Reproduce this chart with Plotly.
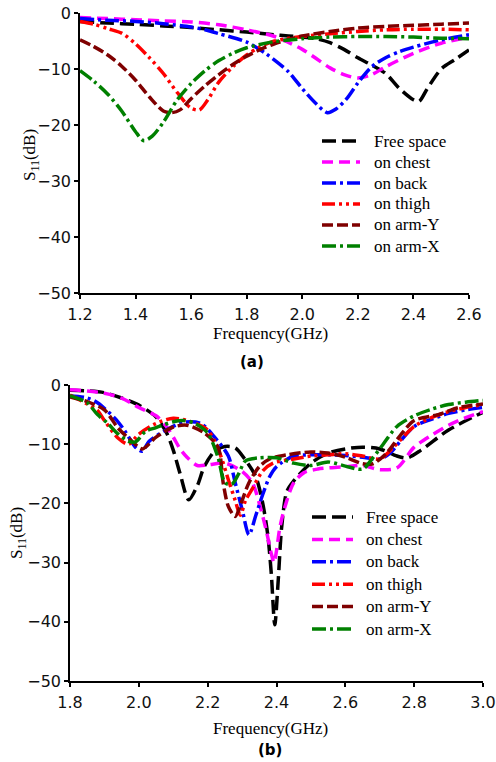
import plotly.graph_objects as go

# ---------------- data: panel (a) ----------------
a_free_x = [1.2, 1.3, 1.4, 1.5, 1.6, 1.7, 1.8, 1.9, 1.95, 2.0, 2.05, 2.1, 2.15, 2.2, 2.25, 2.3, 2.35, 2.4, 2.42, 2.45, 2.5, 2.55, 2.6]
a_free_y = [-1.5, -1.8, -2.0, -2.3, -2.6, -3.0, -3.4, -3.9, -4.1, -4.3, -4.6, -5.3, -6.5, -8.0, -9.3, -10.8, -13.5, -15.5, -15.8, -13.5, -10.0, -8.3, -6.6]

a_chest_x = [1.2, 1.3, 1.4, 1.5, 1.6, 1.7, 1.8, 1.9, 2.0, 2.1, 2.15, 2.2, 2.25, 2.3, 2.4, 2.5, 2.6]
a_chest_y = [-0.8, -1.0, -1.2, -1.4, -1.6, -2.1, -3.0, -4.2, -6.5, -9.8, -11.0, -11.6, -11.0, -9.6, -7.2, -5.4, -4.3]

a_back_x = [1.2, 1.3, 1.4, 1.5, 1.6, 1.65, 1.7, 1.8, 1.87, 1.95, 2.0, 2.05, 2.09, 2.12, 2.16, 2.2, 2.25, 2.3, 2.35, 2.4, 2.5, 2.6]
a_back_y = [-1.0, -1.3, -1.5, -1.9, -2.5, -3.0, -3.7, -5.2, -7.3, -10.5, -13.5, -16.2, -17.8, -17.2, -15.3, -12.5, -9.6, -8.0, -6.9, -6.1, -4.8, -3.9]

a_thigh_x = [1.2, 1.25, 1.3, 1.35, 1.4, 1.45, 1.5, 1.55, 1.6, 1.63, 1.66, 1.7, 1.75, 1.8, 1.85, 1.9, 2.0, 2.1, 2.2, 2.3, 2.4, 2.5, 2.6]
a_thigh_y = [-1.5, -2.0, -2.8, -3.6, -5.5, -8.0, -10.8, -14.2, -17.0, -17.3, -15.5, -12.3, -9.6, -7.5, -6.0, -5.0, -4.2, -3.7, -3.3, -3.0, -2.9, -2.9, -3.0]

a_armY_x = [1.2, 1.25, 1.3, 1.35, 1.4, 1.45, 1.5, 1.53, 1.56, 1.6, 1.65, 1.7, 1.75, 1.8, 1.85, 1.9, 1.95, 2.0, 2.1, 2.2, 2.3, 2.4, 2.5, 2.6]
a_armY_y = [-4.8, -6.0, -7.5, -9.5, -12.0, -15.0, -17.5, -17.8, -17.3, -15.3, -13.0, -11.0, -9.2, -7.7, -6.5, -5.5, -4.7, -4.1, -3.3, -2.7, -2.4, -2.2, -2.0, -1.8]

a_armX_x = [1.2, 1.25, 1.3, 1.35, 1.4, 1.43, 1.46, 1.5, 1.55, 1.6, 1.65, 1.7, 1.75, 1.8, 1.9, 2.0, 2.1, 2.2, 2.3, 2.4, 2.5, 2.6]
a_armX_y = [-10.3, -12.2, -14.5, -17.5, -21.2, -22.8, -22.0, -19.5, -15.5, -12.6, -10.3, -8.5, -7.2, -6.2, -5.1, -4.6, -4.3, -4.2, -4.2, -4.3, -4.5, -4.6]

# ---------------- data: panel (b) ----------------
b_free_x = [1.8, 1.85, 1.9, 1.95, 2.0, 2.05, 2.08, 2.1, 2.12, 2.145, 2.17, 2.19, 2.22, 2.25, 2.28, 2.31, 2.34, 2.36, 2.375, 2.385, 2.395, 2.405, 2.415, 2.43, 2.45, 2.5, 2.55, 2.6, 2.65, 2.7, 2.75, 2.78, 2.82, 2.9, 3.0]
b_free_y = [-0.9, -1.0, -1.3, -2.2, -3.4, -5.4, -8.0, -11.0, -15.0, -19.4, -17.0, -13.8, -11.2, -10.4, -10.6, -12.7, -15.5, -20.0, -25.5, -32.0, -40.5, -33.0, -24.0, -18.0, -16.2, -13.2, -11.5, -10.8, -10.5, -10.8, -12.0, -12.3, -11.0, -7.6, -4.6]

b_chest_x = [1.8, 1.85, 1.9, 1.95, 2.0, 2.05, 2.08, 2.1, 2.12, 2.14, 2.17, 2.2, 2.25, 2.3, 2.33, 2.35, 2.37, 2.385, 2.393, 2.4, 2.41, 2.425, 2.45, 2.48, 2.52, 2.6, 2.65, 2.7, 2.75, 2.8, 2.85, 2.9, 2.95, 3.0]
b_chest_y = [-0.8, -1.0, -1.4, -2.2, -3.8, -5.2, -7.0, -8.8, -10.8, -12.2, -13.6, -13.5, -13.2, -14.6, -16.5, -20.0, -24.5, -28.5, -30.0, -28.0, -24.0, -20.5, -16.5, -14.8, -14.2, -13.8, -13.6, -14.3, -14.0, -10.5, -8.5, -6.8, -5.5, -4.5]

b_back_x = [1.8, 1.85, 1.88, 1.93, 1.96, 1.99, 2.01, 2.03, 2.08, 2.13, 2.18, 2.22, 2.26, 2.28, 2.3, 2.32, 2.34, 2.36, 2.38, 2.4, 2.45, 2.5, 2.55, 2.6, 2.65, 2.7, 2.73, 2.76, 2.8, 2.85, 2.9, 2.95, 3.0]
b_back_y = [-1.8, -2.2, -3.0, -5.6, -7.8, -10.5, -11.2, -9.5, -7.6, -6.3, -6.5, -8.8, -12.0, -16.5, -21.0, -25.3, -22.0, -18.5, -15.5, -13.8, -12.0, -11.8, -11.8, -11.9, -12.2, -12.5, -11.5, -9.5, -7.0, -5.8, -4.8, -4.2, -3.8]

b_thigh_x = [1.8, 1.85, 1.88, 1.9, 1.94, 1.97, 2.0, 2.05, 2.1, 2.15, 2.2, 2.235, 2.26, 2.28, 2.295, 2.31, 2.33, 2.36, 2.39, 2.45, 2.5, 2.55, 2.6, 2.65, 2.7, 2.74, 2.8, 2.85, 2.9, 2.95, 3.0]
b_thigh_y = [-1.7, -3.2, -4.3, -6.0, -9.0, -10.0, -8.3, -6.5, -5.6, -6.2, -7.6, -11.5, -16.0, -19.5, -22.0, -19.5, -17.5, -14.5, -13.2, -12.5, -12.0, -11.8, -11.6, -12.0, -12.5, -10.5, -7.0, -5.5, -4.5, -3.8, -3.3]

b_armY_x = [1.8, 1.85, 1.9, 1.94, 1.98, 2.01, 2.05, 2.1, 2.14, 2.19, 2.23, 2.245, 2.26, 2.28, 2.3, 2.32, 2.35, 2.38, 2.43, 2.5, 2.55, 2.6, 2.65, 2.68, 2.72, 2.76, 2.8, 2.87, 2.93, 3.0]
b_armY_y = [-2.0, -2.8, -4.2, -7.3, -9.5, -10.8, -8.8, -7.1, -6.8, -8.1, -10.5, -16.5, -20.5, -22.2, -19.5, -16.5, -13.8, -12.5, -11.8, -11.3, -11.5, -12.2, -13.3, -13.3, -11.5, -8.5, -6.0, -5.0, -3.8, -3.2]

b_armX_x = [1.8, 1.85, 1.88, 1.91, 1.94, 1.97, 1.99, 2.02, 2.05, 2.1, 2.13, 2.16, 2.2, 2.23, 2.25, 2.27, 2.29, 2.31, 2.35, 2.4, 2.45, 2.5, 2.55, 2.6, 2.65, 2.68, 2.71, 2.75, 2.8, 2.85, 2.9, 2.95, 3.0]
b_armX_y = [-1.8, -3.0, -5.0, -6.5, -8.3, -9.5, -9.6, -7.8, -7.2, -6.2, -6.0, -6.4, -8.1, -12.2, -16.5, -16.8, -15.0, -12.8, -12.3, -12.3, -13.2, -13.6, -13.0, -13.7, -14.2, -12.3, -10.0, -7.0, -5.2, -4.1, -3.3, -2.9, -2.6]

series_names = ["Free space", "on chest", "on back", "on thigh", "on arm-Y", "on arm-X"]
x_ticks_a = [1.2, 1.4, 1.6, 1.8, 2.0, 2.2, 2.4, 2.6]
x_ticks_b = [1.8, 2.0, 2.2, 2.4, 2.6, 2.8, 3.0]
y_ticks = [0, -10, -20, -30, -40, -50]

# ---------------- styles ----------------
colors = ["#000000", "#FF00FF", "#0000FF", "#FF0000", "#7F0000", "#008000"]
dashes = ["14px,6px", "11px,6px", "14px,4px,3px,4px", "13px,4px,3px,4px,3px,4px", "11px,4px", "14px,4px,3px,4px"]
LW = 3.5

W, H = 496, 762
def px(x):
    return x / W
def py(y):
    return 1 - y / H

fig = go.Figure()

data_a = [(a_free_x, a_free_y), (a_chest_x, a_chest_y), (a_back_x, a_back_y),
          (a_thigh_x, a_thigh_y), (a_armY_x, a_armY_y), (a_armX_x, a_armX_y)]
data_b = [(b_free_x, b_free_y), (b_chest_x, b_chest_y), (b_back_x, b_back_y),
          (b_thigh_x, b_thigh_y), (b_armY_x, b_armY_y), (b_armX_x, b_armX_y)]

for i, (xs, ys) in enumerate(data_a):
    fig.add_trace(go.Scatter(x=xs, y=ys, mode="lines", name=series_names[i], showlegend=False,
                             line=dict(color=colors[i], width=LW, dash=dashes[i], shape="spline", smoothing=0.8),
                             xaxis="x", yaxis="y"))
for i, (xs, ys) in enumerate(data_b):
    fig.add_trace(go.Scatter(x=xs, y=ys, mode="lines", name=series_names[i], showlegend=False,
                             line=dict(color=colors[i], width=LW, dash=dashes[i], shape="spline", smoothing=0.8),
                             xaxis="x2", yaxis="y2"))

tickfont = dict(family="DejaVu Sans, Verdana, sans-serif", size=16, color="#111111")
axis_common = dict(showgrid=False, zeroline=False, showline=True, linecolor="#000000", linewidth=1.5,
                   ticks="outside", ticklen=4, tickwidth=1.5, tickcolor="#000000", tickfont=tickfont,
                   automargin=False)

fig.update_layout(
    width=W, height=H, margin=dict(l=0, r=0, t=0, b=0, autoexpand=False),
    paper_bgcolor="white", plot_bgcolor="white", showlegend=False,
    xaxis=dict(domain=[px(80), px(469)], range=[1.2, 2.6], tickvals=x_ticks_a, tickformat=".1f",
               anchor="y", ticklabelstandoff=2, **axis_common),
    yaxis=dict(domain=[py(293), py(13)], range=[-50, 0], tickvals=y_ticks, anchor="x",
               ticklabelstandoff=0, **axis_common),
    xaxis2=dict(domain=[px(70), px(483)], range=[1.8, 3.0], tickvals=x_ticks_b, tickformat=".1f",
                anchor="y2", ticklabelstandoff=2, **axis_common),
    yaxis2=dict(domain=[py(681), py(385)], range=[-50, 0], tickvals=y_ticks, anchor="x2",
                ticklabelstandoff=0, **axis_common),
)

serif = "Liberation Serif, Times New Roman, serif"

# legend drawn as line samples + labels in paper coordinates
legends = [dict(x0=322, x1=360, tx=372, y0=141, dy=21.0),
           dict(x0=312, x1=353, tx=364, y0=517, dy=22.4)]
for lg in legends:
    for i, name in enumerate(series_names):
        yy = lg["y0"] + lg["dy"] * i
        fig.add_shape(type="line", xref="paper", yref="paper",
                      x0=px(lg["x0"]), x1=px(lg["x1"]), y0=py(yy), y1=py(yy),
                      line=dict(color=colors[i], width=LW, dash=dashes[i]))
        fig.add_annotation(xref="paper", yref="paper", showarrow=False, text=name,
                           x=px(lg["tx"]), y=py(yy), xanchor="left", yanchor="middle",
                           font=dict(family=serif, size=17, color="#000"))

ann = [
    dict(text="Frequency(GHz)", x=px(270), y=py(333), font=dict(family=serif, size=17, color="#000")),
    dict(text="Frequency(GHz)", x=px(270), y=py(728), font=dict(family=serif, size=17, color="#000")),
    dict(text="S<sub>11</sub>(dB)", x=px(31), y=py(155), textangle=-90, font=dict(family=serif, size=17, color="#000")),
    dict(text="S<sub>11</sub>(dB)", x=px(18), y=py(533), textangle=-90, font=dict(family=serif, size=17, color="#000")),
    dict(text="<b>(a)</b>", x=px(252), y=py(362), font=dict(family="DejaVu Sans, Verdana, sans-serif", size=15, color="#000")),
    dict(text="<b>(b)</b>", x=px(270), y=py(750), font=dict(family="DejaVu Sans, Verdana, sans-serif", size=15, color="#000")),
]
for a in ann:
    fig.add_annotation(xref="paper", yref="paper", showarrow=False, xanchor="center", yanchor="middle", **a)

fig.write_html("out.html", config={"displayModeBar": False},
               post_script="document.body.style.margin='0';document.body.style.padding='0';"
                           "document.documentElement.style.overflow='hidden';")
